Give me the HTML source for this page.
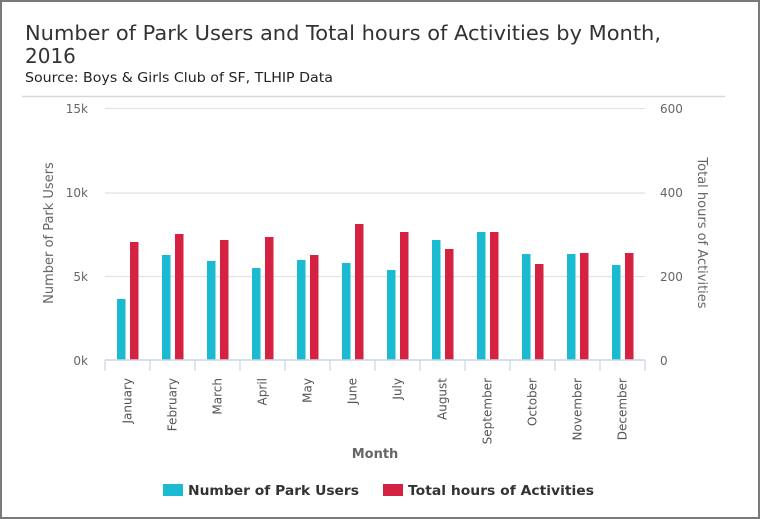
<!DOCTYPE html>
<html><head><meta charset="utf-8"><style>
html,body{margin:0;padding:0;background:#fff}
svg{display:block}
text{font-family:"DejaVu Sans","Liberation Sans",sans-serif}
</style></head><body>
<svg width="760" height="519" viewBox="0 0 760 519" xmlns="http://www.w3.org/2000/svg">
<rect x="1" y="1" width="758" height="517" fill="#fff" stroke="#7a7a7a" stroke-width="2"/>
<text x="25" y="40" font-size="20" fill="#333" textLength="636" lengthAdjust="spacingAndGlyphs">Number of Park Users and Total hours of Activities by Month,</text>
<text x="25" y="63" font-size="20" fill="#333">2016</text>
<text x="25" y="82" font-size="13" fill="#222" textLength="308" lengthAdjust="spacingAndGlyphs">Source: Boys &amp; Girls Club of SF, TLHIP Data</text>
<line x1="22" y1="96.5" x2="725" y2="96.5" stroke="#d8d8d8" stroke-width="1.5"/>
<g stroke="#e2e2e2" stroke-width="1.2">
<line x1="105" y1="108.5" x2="645" y2="108.5"/>
<line x1="105" y1="193" x2="645" y2="193"/>
<line x1="105" y1="276.5" x2="645" y2="276.5"/>
</g>
<g font-size="12" fill="#666" text-anchor="end">
<text x="88" y="113">15k</text><text x="88" y="197">10k</text><text x="88" y="281">5k</text><text x="88" y="365">0k</text>
</g>
<g font-size="12" fill="#666" text-anchor="start">
<text x="660" y="113">600</text><text x="660" y="197">400</text><text x="660" y="281">200</text><text x="660" y="365">0</text>
</g>
<text transform="translate(53,233) rotate(-90)" font-size="13" fill="#666" text-anchor="middle">Number of Park Users</text>
<text transform="translate(698,233) rotate(90)" font-size="13" fill="#666" text-anchor="middle">Total hours of Activities</text>
<g id="bars"></g>
<line x1="105" y1="360" x2="645" y2="360" stroke="#c9d6e6" stroke-width="1.5"/>
<g id="ticks" stroke="#c9d6e6" stroke-width="1.2"></g>
<g id="labels" font-size="12" fill="#555"></g>
<text x="375" y="458" font-size="13" font-weight="bold" fill="#666" text-anchor="middle">Month</text>
<rect x="163" y="484" width="20" height="12" fill="#1abbd1"/>
<text x="188" y="495" font-size="13.5" font-weight="bold" fill="#333" textLength="171" lengthAdjust="spacingAndGlyphs">Number of Park Users</text>
<rect x="383" y="484" width="20" height="12" fill="#d62242"/>
<text x="408" y="495" font-size="13.5" font-weight="bold" fill="#333" textLength="186" lengthAdjust="spacingAndGlyphs">Total hours of Activities</text>
<script>
var months=["January","February","March","April","May","June","July","August","September","October","November","December"];
var blue=[299,255,261,268,260,263,270,240,232,254,254,265];
var red=[242,234,240,237,255,224,232,249,232,264,253,253];
var ns="http://www.w3.org/2000/svg",b=document.getElementById("bars"),t=document.getElementById("ticks"),l=document.getElementById("labels");
function el(p,n,a,txt){var e=document.createElementNS(ns,n);for(var k in a)e.setAttribute(k,a[k]);if(txt)e.textContent=txt;p.appendChild(e);}
for(var i=0;i<12;i++){var x0=105+45*i;
el(b,"rect",{x:x0+12,y:blue[i],width:8.5,height:360-blue[i],fill:"#1abbd1"});
el(b,"rect",{x:x0+25,y:red[i],width:8.5,height:360-red[i],fill:"#d62242"});
el(t,"line",{x1:x0,y1:360,x2:x0,y2:371});
var cx=x0+22.5;
el(l,"text",{transform:"translate("+(cx+4)+",378) rotate(-90)","text-anchor":"end"},months[i]);}
el(t,"line",{x1:645,y1:360,x2:645,y2:371});
</script>
</svg>
</body></html>
